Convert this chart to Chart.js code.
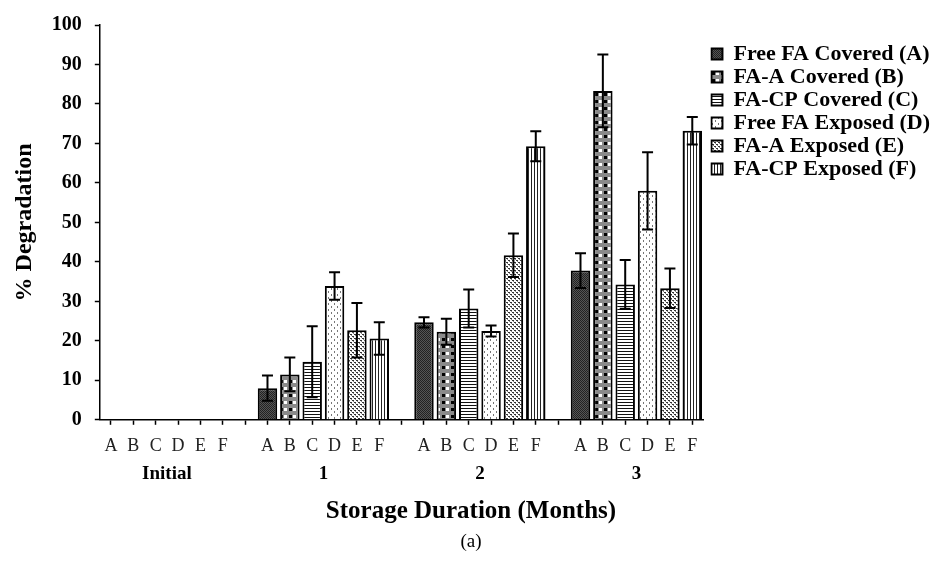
<!DOCTYPE html>
<html><head><meta charset="utf-8">
<script src="https://cdn.jsdelivr.net/npm/chart.js@4"></script>
<style>html,body{margin:0;padding:0;background:#fff}#wrap{width:936px;height:565px}</style>
</head><body><div id="wrap"><canvas id="c" width="936" height="565"></canvas></div>
<script>
const groups = ['Initial', '1', '2', '3'];
const subLabels = ['A', 'B', 'C', 'D', 'E', 'F'];
const seriesNames = ['Free FA Covered (A)', 'FA-A Covered (B)', 'FA-CP Covered (C)', 'Free FA Exposed (D)', 'FA-A Exposed (E)', 'FA-CP Exposed (F)'];
const freeFACovered   = [0, 8.0, 24.7, 37.8];
const faACovered      = [0, 11.5, 22.3, 83.3];
const faCPCovered     = [0, 14.7, 28.2, 34.3];
const freeFAExposed   = [0, 33.9, 22.5, 58.0];
const faAExposed      = [0, 22.7, 41.7, 33.3];
const faCPExposed     = [0, 20.6, 69.3, 73.2];
const errFreeFACovered = [0, 3.2, 1.3, 4.4];
const errFaACovered    = [0, 4.3, 3.3, 9.2];
const errFaCPCovered   = [0, 9.0, 4.8, 6.2];
const errFreeFAExposed = [0, 3.5, 1.4, 9.8];
const errFaAExposed    = [0, 6.9, 5.5, 5.0];
const errFaCPExposed   = [0, 4.1, 3.8, 3.5];
const yTicks = [0, 10, 20, 30, 40, 50, 60, 70, 80, 90, 100];

const seriesValues = [freeFACovered, faACovered, faCPCovered, freeFAExposed, faAExposed, faCPExposed];
const seriesErrors = [errFreeFACovered, errFaACovered, errFaCPCovered, errFreeFAExposed, errFaAExposed, errFaCPExposed];

// category slots: 6 bars + 1 gap per group
const slots = [];
groups.forEach((g, gi) => { subLabels.forEach(s => slots.push(s)); if (gi < groups.length - 1) slots.push(''); });
const slotIndex = (gi, si) => gi * 7 + si;

function makePattern(w, h, draw) {
  const cv = document.createElement('canvas'); cv.width = w; cv.height = h;
  const c = cv.getContext('2d'); draw(c, w, h);
  return document.getElementById('c').getContext('2d').createPattern(cv, 'repeat');
}
const patterns = [
  makePattern(2, 2, (c) => { c.fillStyle = '#555'; c.fillRect(0,0,2,2); c.fillStyle = '#222'; c.fillRect(0,0,1,1); c.fillRect(1,1,1,1); }),
  makePattern(9, 7, (c) => { c.fillStyle = '#8a8a8a'; c.fillRect(0,0,9,7); c.fillStyle = '#000'; c.fillRect(1,2,3,3); c.fillStyle = '#fff'; c.fillRect(5,2,3,3); }),
  makePattern(4, 3, (c) => { c.fillStyle = '#fff'; c.fillRect(0,0,4,3); c.fillStyle = '#111'; c.fillRect(0,0,4,1); }),
  makePattern(6, 6, (c) => { c.fillStyle = '#fff'; c.fillRect(0,0,6,6); c.fillStyle = '#777'; c.fillRect(1,0,1,2); c.fillRect(4,3,1,2); }),
  makePattern(4, 4, (c) => { c.fillStyle = '#fff'; c.fillRect(0,0,4,4); c.fillStyle = '#333'; c.fillRect(0,0,2,1); c.fillRect(2,2,2,1); c.fillStyle='#888'; c.fillRect(1,1,1,1); c.fillRect(3,3,1,1); }),
  makePattern(3, 1, (c) => { c.fillStyle = '#fff'; c.fillRect(0,0,3,1); c.fillStyle = '#222'; c.fillRect(0,0,1,1); }),
];

const datasets = seriesNames.map((name, si) => {
  const data = slots.map(() => null);
  groups.forEach((g, gi) => { data[slotIndex(gi, si)] = seriesValues[si][gi]; });
  return {
    label: name, data, errors: seriesErrors[si],
    backgroundColor: patterns[si], borderColor: '#000', borderWidth: 2,
    barPercentage: 0.87, categoryPercentage: 1.0, grouped: false
  };
});

const errorBars = {
  id: 'errorBars',
  afterDatasetsDraw(chart) {
    const ctx = chart.ctx, y = chart.scales.y;
    ctx.save(); ctx.strokeStyle = '#000'; ctx.lineWidth = 2;
    chart.data.datasets.forEach((ds, di) => {
      const meta = chart.getDatasetMeta(di);
      groups.forEach((g, gi) => {
        const e = ds.errors[gi]; const v = ds.data[slotIndex(gi, di)];
        if (!e) return;
        const el = meta.data[slotIndex(gi, di)]; const x = el.x;
        const yt = y.getPixelForValue(v + e), yb = y.getPixelForValue(v - e);
        ctx.beginPath(); ctx.moveTo(x, yt); ctx.lineTo(x, yb);
        ctx.moveTo(x - 5.5, yt); ctx.lineTo(x + 5.5, yt);
        ctx.moveTo(x - 5.5, yb); ctx.lineTo(x + 5.5, yb); ctx.stroke();
      });
    });
    ctx.restore();
  }
};

const serif = 'Liberation Serif, Times New Roman, serif';
new Chart(document.getElementById('c'), {
  type: 'bar',
  data: { labels: slots, datasets },
  plugins: [errorBars],
  options: {
    responsive: false, animation: false,
    layout: { padding: { left: 2, right: -4, top: 15, bottom: 6 } },
    scales: {
      x: {
        type: 'category', weight: 0,
        grid: { display: true, drawOnChartArea: false, offset: false, color: '#000', tickLength: 5, tickWidth: 1.5 },
        border: { display: true, color: '#000', width: 1.5 },
        ticks: { color: '#222', font: { family: serif, size: 18 }, padding: 11, autoSkip: false, maxRotation: 0 },
        afterFit: (s) => { s.height = 42.6; }
      },
      xg: {
        type: 'linear', position: 'bottom', weight: 1, offset: false, min: -0.5, max: slots.length - 0.5,
        afterBuildTicks: (s) => { s.ticks = groups.map((g, gi) => ({ value: gi * 7 + 2.5 })); },
        grid: { display: false, drawTicks: false }, border: { display: false },
        ticks: { color: '#000', font: { family: serif, size: 19, weight: 'bold' }, padding: 0, autoSkip: false, maxRotation: 0,
          callback: (v) => groups[Math.round((v - 2.5) / 7)] }
      },
      y: {
        min: 0, max: 100,
        afterBuildTicks: (s) => { s.ticks = yTicks.map(v => ({ value: v })); },
        grid: { display: true, drawOnChartArea: false, color: '#000', tickLength: 5, tickWidth: 1.5 },
        border: { display: true, color: '#000', width: 1.5 },
        ticks: { color: '#000', font: { family: serif, size: 20, weight: 'bold' }, padding: 13 },
        title: { display: true, text: '% Degradation', color: '#000', font: { family: serif, size: 24, weight: 'bold' }, padding: { top: 8, bottom: 0 } }
      },
      gap: {
        type: 'linear', position: 'right', display: false,
        afterFit: (s) => { s.width = 7; }
      }
    },
    plugins: {
      legend: {
        position: 'right', align: 'start',
        title: { display: true, text: ' ', font: { size: 10 }, padding: { top: 0, bottom: 15 } },
        labels: { color: '#000', font: { family: serif, size: 22, weight: 'bold' }, boxWidth: 11, boxHeight: 11, padding: 1 }
      },
      subtitle: { display: true, position: 'bottom', text: 'Storage Duration (Months)', color: '#000', font: { family: serif, size: 25, weight: 'bold' }, padding: { top: 11, bottom: 0 } },
      title: { display: true, position: 'bottom', text: '(a)', color: '#000', font: { family: serif, size: 19, weight: 'normal' }, padding: { top: 4, bottom: 6 } },
      tooltip: { enabled: false }
    }
  }
});
</script></body></html>
